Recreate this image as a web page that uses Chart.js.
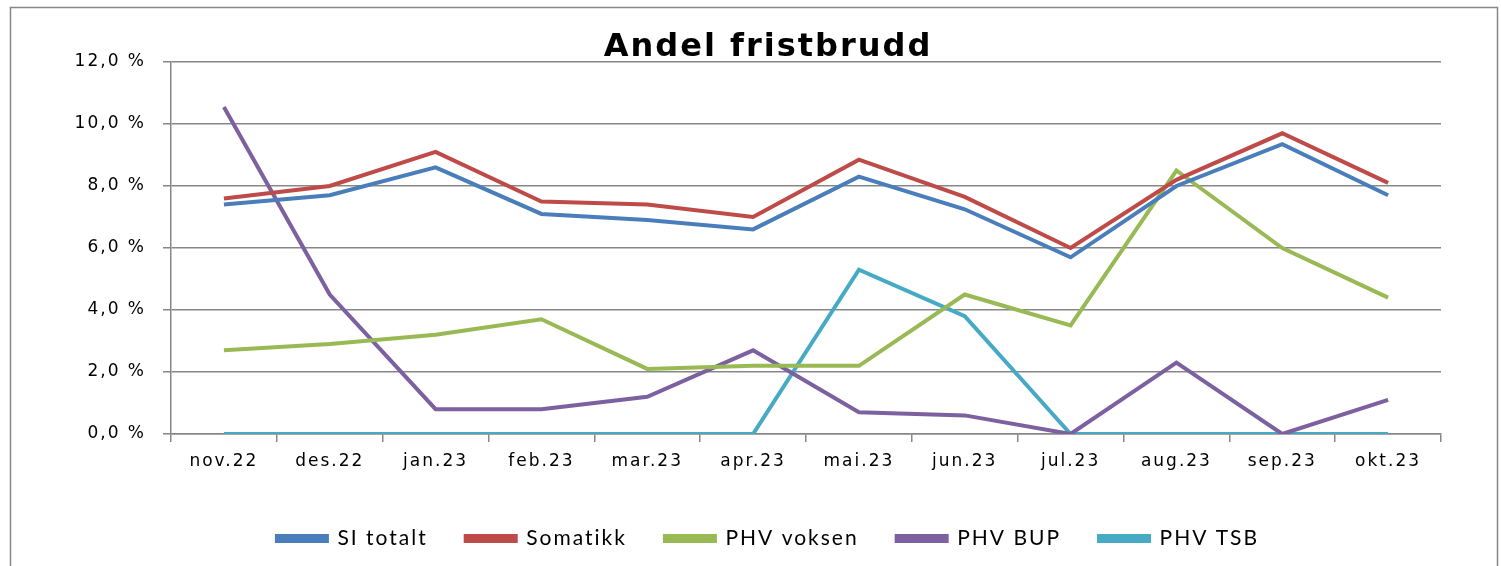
<!DOCTYPE html>
<html>
<head>
<meta charset="utf-8">
<script src="https://cdn.jsdelivr.net/npm/chart.js@4"></script>
<style>
  html, body { margin: 0; padding: 0; background: #fff; }
  #wrap { width: 1501px; height: 566px; }
</style>
</head>
<body>
<div id="wrap"><canvas id="myChart"></canvas></div>
<script>
// kategorier (måneder)
const months = ['nov.22', 'des.22', 'jan.23', 'feb.23', 'mar.23', 'apr.23', 'mai.23', 'jun.23', 'jul.23', 'aug.23', 'sep.23', 'okt.23'];

// andel fristbrudd i prosent
const siTotalt  = [7.4, 7.7, 8.6, 7.1, 6.9, 6.6, 8.3, 7.25, 5.7, 8.0, 9.35, 7.7];
const somatikk  = [7.6, 8.0, 9.1, 7.5, 7.4, 7.0, 8.85, 7.65, 6.0, 8.2, 9.7, 8.1];
const phvVoksen = [2.7, 2.9, 3.2, 3.7, 2.1, 2.2, 2.2, 4.5, 3.5, 8.5, 6.0, 4.4];
const phvBup    = [10.55, 4.5, 0.8, 0.8, 1.2, 2.7, 0.7, 0.6, 0.0, 2.3, 0.0, 1.1];
const phvTsb    = [0, 0, 0, 0, 0, 0, 5.3, 3.8, 0, 0, 0, 0];

// y-akse
const yTicks = [0, 2, 4, 6, 8, 10, 12];

const gridColor = '#878787';

function serie(label, data, color) {
  return {
    label: label,
    data: data,
    borderColor: color,
    backgroundColor: color,
    borderWidth: 4,
    pointRadius: 0,
    pointHoverRadius: 0,
    tension: 0,
    fill: false
  };
}

// ramme rundt diagrammet + litt bokstavavstand (teksten i originalen er bred)
const framePlugin = {
  id: 'frame',
  beforeUpdate(chart) { chart.ctx.letterSpacing = '2px'; },
  beforeDraw(chart) {
    const c = chart.ctx;
    c.save();
    c.strokeStyle = gridColor;
    c.lineWidth = 1.5;
    c.strokeRect(10.5, 7.5, 1487, 600);
    c.restore();
    c.letterSpacing = '2px';
  }
};

const ctx = document.getElementById('myChart').getContext('2d');

const myChart = new Chart(ctx, {
  type: 'line',
  data: {
    labels: months,
    datasets: [
      serie('SI totalt', siTotalt, '#4a7ebb'),
      serie('Somatikk', somatikk, '#be4b48'),
      serie('PHV voksen', phvVoksen, '#98b954'),
      serie('PHV BUP', phvBup, '#7d60a0'),
      serie('PHV TSB', phvTsb, '#46aac5')
    ]
  },
  plugins: [framePlugin],
  options: {
    responsive: true,
    maintainAspectRatio: false,
    animation: false,
    layout: {
      padding: { left: 55, right: 20, top: 6, bottom: 7 }
    },
    scales: {
      x: {
        offset: true,
        grid: {
          offset: true,
          drawOnChartArea: false,
          tickLength: 8,
          color: gridColor,
          lineWidth: 1.5
        },
        border: { color: gridColor, width: 1.5 },
        ticks: {
          color: '#000',
          padding: 9,
          maxRotation: 0,
          font: { family: 'DejaVu Sans', size: 17 }
        },
        afterFit(scale) { scale.height = 56; }
      },
      y: {
        min: 0,
        max: 12,
        afterBuildTicks(scale) { scale.ticks = yTicks.map(v => ({ value: v })); },
        grid: {
          color: gridColor,
          lineWidth: 1.5,
          tickLength: 8
        },
        border: { color: gridColor, width: 1.5 },
        ticks: {
          color: '#000',
          padding: 17,
          font: { family: 'DejaVu Sans', size: 17 },
          callback: v => v.toFixed(1).replace('.', ',') + ' %'
        },
        afterFit(scale) { scale.width = 116; }
      },
      right: {
        position: 'right',
        display: true,
        grid: { display: false },
        border: { display: false },
        ticks: { display: false },
        afterFit(scale) { scale.width = 40; }
      }
    },
    plugins: {
      title: {
        display: true,
        text: 'Andel fristbrudd',
        color: '#000',
        font: { family: 'DejaVu Sans', size: 32, weight: 'bold', lineHeight: 1 },
        padding: { top: 26, bottom: -2 }
      },
      legend: {
        position: 'bottom',
        labels: {
          color: '#000',
          boxWidth: 50,
          boxHeight: 5,
          padding: 38,
          font: { family: 'Lato', size: 21 }
        }
      },
      tooltip: { enabled: false }
    }
  }
});
</script>
</body>
</html>
